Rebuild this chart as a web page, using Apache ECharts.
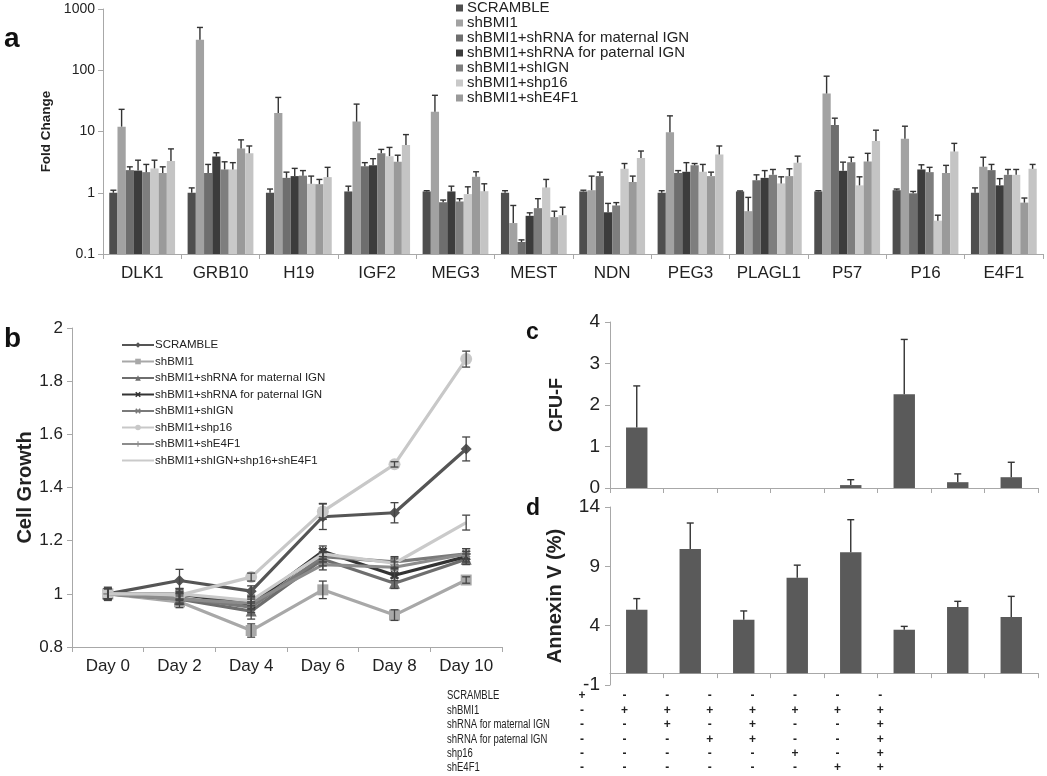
<!DOCTYPE html>
<html><head><meta charset="utf-8">
<script src="https://cdn.jsdelivr.net/npm/echarts@6/dist/echarts.min.js"></script>
<style>html,body{margin:0;padding:0;background:#fff}#c{width:1047px;height:776px}</style>
</head><body><div id="c"></div><script>
// ---------- Panel a data ----------
const genes = ['DLK1','GRB10','H19','IGF2','MEG3','MEST','NDN','PEG3','PLAGL1','P57','P16','E4F1'];
const groupNames = ['SCRAMBLE','shBMI1','shBMI1+shRNA for maternal IGN','shBMI1+shRNA for paternal IGN','shBMI1+shIGN','shBMI1+shp16','shBMI1+shE4F1','shBMI1+shIGN+shp16+shE4F1'];
const foldScramble = [1.0,1.0,1.0,1.05,1.05,1.0,1.05,1.0,1.05,1.05,1.1,1.0];
const foldShBMI1   = [12,316,20,14.5,21,0.32,1.1,9.7,0.5,41.7,7.6,2.65];
const foldMaternal = [2.34,2.1,1.75,2.7,0.7,0.157,1.87,2.1,1.6,12.8,0.98,2.34];
const foldPaternal = [2.3,3.9,1.87,2.8,1.05,0.42,0.48,2.2,1.75,2.28,2.4,1.32];
const foldShIGN    = [2.17,2.4,1.9,4.4,0.72,0.56,0.62,2.8,1.96,3.16,2.17,1.96];
const foldShp16    = [2.5,2.4,1.4,3.96,0.95,1.22,2.46,2.2,1.42,1.32,0.35,1.96];
const foldShE4F1   = [2.1,5.3,1.38,3.2,1.82,0.4,1.5,1.87,1.87,3.24,2.1,0.69];
const foldAll      = [3.3,4.4,1.8,6.0,1.06,0.43,3.7,4.2,3.1,7.0,4.7,2.46];
const topScramble = [1.1,1.2,1.15,1.28,1.08,1.08,1.1,1.08,1.07,1.08,1.15,1.2];
const topShBMI1   = [23,500,36,28,39,0.62,1.87,18,0.84,80,12.2,3.8];
const topMaternal = [2.65,2.9,2.17,3.1,0.76,0.17,2.17,2.3,1.96,16.5,1.05,2.9];
const topPaternal = [3.4,4.5,2.5,3.6,1.28,0.47,0.67,3.1,2.3,3.16,2.86,1.7];
const topShIGN    = [2.9,3.2,2.3,5.1,0.8,0.8,0.69,3.0,2.4,3.8,2.6,2.4];
const topShp16    = [3.4,3.1,1.87,5.5,1.25,1.65,3.0,2.9,1.82,1.82,0.43,2.4];
const topShE4F1   = [2.65,7.3,1.65,4.1,2.2,0.5,1.87,2.17,2.46,4.4,2.8,0.82];
const topAll      = [5.2,5.8,2.6,8.9,1.4,0.58,4.8,5.8,3.96,10.5,6.4,2.9];
const foldTicks = [0.1,1,10,100,1000];

// ---------- Panel b data ----------
const days = ['Day 0','Day 2','Day 4','Day 6','Day 8','Day 10'];
const growScramble = [1.00,1.05,1.01,1.29,1.305,1.545];
const growShBMI1   = [1.00,0.97,0.862,1.015,0.92,1.052];
const growMaternal = [1.00,0.98,0.935,1.13,1.04,1.13];
const growPaternal = [1.00,1.00,0.96,1.16,1.07,1.14];
const growShIGN    = [1.00,0.985,0.95,1.14,1.12,1.15];
const growShp16    = [1.00,0.995,1.063,1.31,1.487,1.883];
const growShE4F1   = [1.00,0.98,0.965,1.11,1.10,1.15];
const growAll      = [1.00,1.00,0.975,1.15,1.115,1.268];
const errScramble = [0.025,0.042,0.02,0.048,0.038,0.045];
const errShBMI1   = [0.02,0.022,0.025,0.033,0.02,0.012];
const errMaternal = [0.02,0.02,0.03,0.025,0.02,0.02];
const errPaternal = [0.02,0.02,0.02,0.02,0.02,0.02];
const errShIGN    = [0.02,0.02,0.02,0.02,0.02,0.02];
const errShp16    = [0.02,0.02,0.015,0.03,0.01,0.03];
const errShE4F1   = [0.02,0.02,0.02,0.02,0.02,0.02];
const errAll      = [0.02,0.02,0.02,0.02,0.02,0.028];

// ---------- Panel c / d data ----------
const conditions = ['1','2','3','4','5','6','7','8'];
const cfuMean = [1.46,0,0,0,0.07,2.26,0.14,0.26];
const cfuTop  = [2.46,null,null,null,0.2,3.58,0.34,0.62];
const annexinMean = [5.35,10.46,4.5,8.04,10.18,3.66,5.57,4.73];
const annexinTop  = [6.28,12.65,5.24,9.1,12.93,3.94,6.05,6.47];

// ---------- Table data ----------
const tableRows = ['SCRAMBLE','shBMI1','shRNA for maternal IGN','shRNA for paternal IGN','shp16','shE4F1'];
const tableMarks = ['+-------','-+++++++','--+-+--+','---++--+','-----+-+','------++'];

// ---------- styling ----------
const FONT = 'Liberation Sans, Arial, sans-serif';
const barColorsA = ['#4e4e4e','#a2a2a2','#6e6e6e','#3c3c3c','#7e7e7e','#c9c9c9','#9a9a9a','#c4c4c4'];
const lineColorsB = ['#555555','#a8a8a8','#6e6e6e','#333333','#7a7a7a','#c8c8c8','#8c8c8c','#cacaca'];
const X_PATH = 'path://M2,0L5,3L8,0L10,2L7,5L10,8L8,10L5,7L2,10L0,8L3,5L0,2Z';
const PLUS_PATH = 'path://M4,0H6V4H10V6H6V10H4V6H0V4H4Z';
const lineSymbols = ['diamond','rect','triangle',X_PATH,X_PATH,'circle',PLUS_PATH,'none'];
const lineSymbolSize = [11,11,11,9,9,12,9,0];
const axisGray = '#a8a8a8';

const foldMeans = [foldScramble,foldShBMI1,foldMaternal,foldPaternal,foldShIGN,foldShp16,foldShE4F1,foldAll];
const foldTops  = [topScramble,topShBMI1,topMaternal,topPaternal,topShIGN,topShp16,topShE4F1,topAll];
const growVals = [growScramble,growShBMI1,growMaternal,growPaternal,growShIGN,growShp16,growShE4F1,growAll];
const growErrs = [errScramble,errShBMI1,errMaternal,errPaternal,errShIGN,errShp16,errShE4F1,errAll];

const series = [];
// panel a bars
foldMeans.forEach((arr, s) => {
  series.push({
    name: 'a:' + groupNames[s], type: 'bar', xAxisIndex: 0, yAxisIndex: 0,
    data: arr, barGap: '0%', barCategoryGap: '16%',
    itemStyle: {color: barColorsA[s]}, silent: true
  });
});
const errA = [];
foldMeans.forEach((arr, s) => arr.forEach((v, i) => errA.push([i, s, v, foldTops[s][i]])));
series.push({
  type: 'custom', xAxisIndex: 0, yAxisIndex: 0, z: 5, silent: true,
  encode: {x: 0, y: 3}, data: errA,
  renderItem(params, api) {
    const cat = api.value(0), s = api.value(1);
    const band = api.coord([1, 1])[0] - api.coord([0, 1])[0];
    const gw = band * 0.84, bw = gw / 8;
    const cx = api.coord([cat, 1])[0] - gw / 2 + bw * (s + 0.5);
    const yb = api.coord([cat, api.value(2)])[1];
    const yt = api.coord([cat, api.value(3)])[1];
    const st = {stroke: '#333', lineWidth: 1.4};
    return {type: 'group', children: [
      {type: 'line', shape: {x1: cx, y1: yb, x2: cx, y2: yt}, style: st},
      {type: 'line', shape: {x1: cx - 3, y1: yt, x2: cx + 3, y2: yt}, style: st}
    ]};
  }
});
// panel b lines
growVals.forEach((arr, s) => {
  series.push({
    name: 'b:' + groupNames[s], type: 'line', xAxisIndex: 1, yAxisIndex: 1,
    data: arr, symbol: lineSymbols[s], symbolSize: lineSymbolSize[s], showSymbol: s !== 7,
    lineStyle: {color: lineColorsB[s], width: 3.2}, itemStyle: {color: lineColorsB[s]},
    silent: true, z: 3 + s
  });
});
const errB = [];
growVals.forEach((arr, s) => arr.forEach((v, i) => errB.push([i, v - growErrs[s][i], v + growErrs[s][i]])));
series.push({
  type: 'custom', xAxisIndex: 1, yAxisIndex: 1, z: 20, silent: true,
  encode: {x: 0, y: [1, 2]}, data: errB,
  renderItem(params, api) {
    const lo = api.coord([api.value(0), api.value(1)]);
    const hi = api.coord([api.value(0), api.value(2)]);
    const st = {stroke: '#444', lineWidth: 1.3};
    return {type: 'group', children: [
      {type: 'line', shape: {x1: lo[0], y1: lo[1], x2: hi[0], y2: hi[1]}, style: st},
      {type: 'line', shape: {x1: lo[0] - 4, y1: lo[1], x2: lo[0] + 4, y2: lo[1]}, style: st},
      {type: 'line', shape: {x1: hi[0] - 4, y1: hi[1], x2: hi[0] + 4, y2: hi[1]}, style: st}
    ]};
  }
});
// panel c / d bars
function upErr(xi, yi, means, tops) {
  const d = [];
  means.forEach((m, i) => { if (tops[i] != null) d.push([i, m, tops[i]]); });
  return {
    type: 'custom', xAxisIndex: xi, yAxisIndex: yi, z: 5, silent: true,
    encode: {x: 0, y: [1, 2]}, data: d,
    renderItem(params, api) {
      const b = api.coord([api.value(0), api.value(1)]);
      const t = api.coord([api.value(0), api.value(2)]);
      const st = {stroke: '#333', lineWidth: 1.4};
      return {type: 'group', children: [
        {type: 'line', shape: {x1: b[0], y1: b[1], x2: t[0], y2: t[1]}, style: st},
        {type: 'line', shape: {x1: t[0] - 3.5, y1: t[1], x2: t[0] + 3.5, y2: t[1]}, style: st}
      ]};
    }
  };
}
series.push({type: 'bar', xAxisIndex: 2, yAxisIndex: 2, data: cfuMean, barWidth: '40%', itemStyle: {color: '#5a5a5a'}, silent: true});
series.push(upErr(2, 2, cfuMean, cfuTop));
series.push({type: 'bar', xAxisIndex: 3, yAxisIndex: 3, data: annexinMean, barWidth: '40%', itemStyle: {color: '#5a5a5a'}, silent: true});
series.push(upErr(3, 3, annexinMean, annexinTop));

// ---------- graphics (panel letters, table) ----------
const graphics = [
  {type: 'text', x: 4, y: 25, style: {text: 'a', font: 'bold 28px ' + FONT, fill: '#111', verticalAlign: 'alphabetic'}},
  {type: 'text', x: 4, y: 325, style: {text: 'b', font: 'bold 28px ' + FONT, fill: '#111', verticalAlign: 'alphabetic'}},
  {type: 'text', x: 526, y: 321, style: {text: 'c', font: 'bold 23px ' + FONT, fill: '#111', verticalAlign: 'alphabetic'}},
  {type: 'text', x: 526, y: 497, style: {text: 'd', font: 'bold 23px ' + FONT, fill: '#111', verticalAlign: 'alphabetic'}}
];
tableRows.forEach((r, ri) => {
  const y = 696 + ri * 14.4;
  graphics.push({type: 'text', x: 447, y: y, scaleX: 0.76, style: {text: r, font: '12.5px ' + FONT, fill: '#222', verticalAlign: 'middle'}});
  tableMarks[ri].split('').forEach((m, ci) => {
    graphics.push({type: 'text', x: 582 + ci * 42.6, y: y, style: {text: m, font: 'bold 12px ' + FONT, fill: '#222', align: 'center', verticalAlign: 'middle'}});
  });
});

const baseAxisLine = {show: true, lineStyle: {color: axisGray, width: 1}};
const baseTick = {show: true, length: 5, lineStyle: {color: axisGray}};

const legendB = groupNames.map((n, i) => i === 7
  ? {name: 'b:' + n, itemStyle: {opacity: 0}}
  : 'b:' + n);

const option = {
  animation: false,
  backgroundColor: '#ffffff',
  textStyle: {fontFamily: FONT},
  grid: [
    {left: 103, top: 9, width: 940, height: 245},
    {left: 72, top: 328, width: 430, height: 319},
    {left: 610, top: 322, width: 428, height: 166},
    {left: 610, top: 507, width: 428, height: 178}
  ],
  legend: [
    {
      data: groupNames.slice(0, 7).map(n => 'a:' + n), formatter: n => n.slice(2),
      left: 456, top: 0.5, orient: 'vertical', padding: 0, itemGap: 0,
      itemWidth: 7, itemHeight: 7, icon: 'rect', selectedMode: false,
      textStyle: {fontSize: 15, lineHeight: 13.5, color: '#222', fontFamily: FONT, padding: [0, 0, 0, -1]}
    },
    {
      data: legendB, formatter: n => n.slice(2),
      left: 121, top: 339, orient: 'vertical', padding: 0, itemGap: 4.5,
      itemWidth: 32, itemHeight: 7, selectedMode: false,
      textStyle: {fontSize: 11.5, lineHeight: 12, color: '#222', fontFamily: FONT, padding: [0, 0, 0, -4]}
    }
  ],
  xAxis: [
    {gridIndex: 0, type: 'category', data: genes, axisLine: baseAxisLine, axisTick: baseTick,
     axisLabel: {fontSize: 17, color: '#222', margin: 11, interval: 0}},
    {gridIndex: 1, type: 'category', data: days, axisLine: baseAxisLine, axisTick: baseTick,
     axisLabel: {fontSize: 17, color: '#222', margin: 11, interval: 0}},
    {gridIndex: 2, type: 'category', data: conditions, axisLine: baseAxisLine, axisTick: baseTick,
     axisLabel: {show: false}},
    {gridIndex: 3, type: 'category', data: conditions, axisLine: baseAxisLine, axisTick: baseTick,
     axisLabel: {show: false}}
  ],
  yAxis: [
    {gridIndex: 0, type: 'log', logBase: 10, min: foldTicks[0], max: foldTicks[foldTicks.length - 1], startValue: 0.1,
     splitNumber: 4, axisLine: baseAxisLine, axisTick: baseTick, splitLine: {show: false}, minorTick: {show: false},
     axisLabel: {fontSize: 14, color: '#222', margin: 8, formatter: v => String(+v)},
     name: 'Fold Change', nameLocation: 'middle', nameGap: 43,
     nameTextStyle: {fontSize: 13.5, fontWeight: 'bold', color: '#222'}},
    {gridIndex: 1, type: 'value', min: 0.8, max: 2, interval: 0.2, axisLine: baseAxisLine, axisTick: baseTick,
     splitLine: {show: false}, axisLabel: {fontSize: 17, color: '#222', margin: 9},
     name: 'Cell Growth', nameLocation: 'middle', nameGap: 30,
     nameTextStyle: {fontSize: 20, fontWeight: 'bold', color: '#222'}},
    {gridIndex: 2, type: 'value', min: 0, max: 4, interval: 1, axisLine: baseAxisLine, axisTick: baseTick,
     splitLine: {show: false}, axisLabel: {fontSize: 19, color: '#222', margin: 10},
     name: 'CFU-F', nameLocation: 'middle', nameGap: 44,
     nameTextStyle: {fontSize: 18, fontWeight: 'bold', color: '#222'}},
    {gridIndex: 3, type: 'value', min: -1, max: 14, interval: 5, axisLine: baseAxisLine, axisTick: baseTick,
     splitLine: {show: false}, axisLabel: {fontSize: 19, color: '#222', margin: 10},
     name: 'Annexin V (%)', nameLocation: 'middle', nameGap: 45,
     nameTextStyle: {fontSize: 20, fontWeight: 'bold', color: '#222'}}
  ],
  series: series,
  graphic: graphics
};
const chart = echarts.init(document.getElementById('c'), null, {renderer: 'canvas'});
chart.setOption(option);
</script></body></html>
